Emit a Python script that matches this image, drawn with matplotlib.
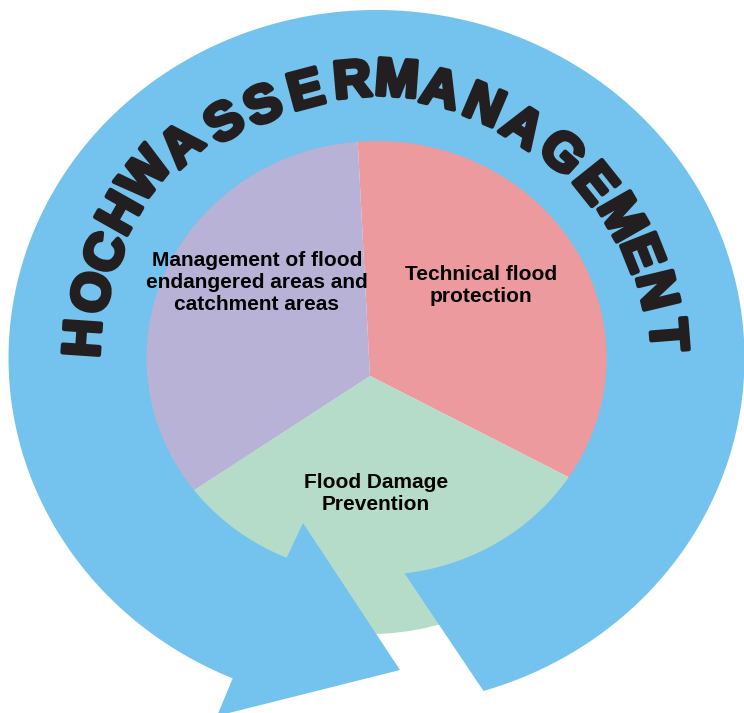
import numpy as np
import matplotlib
matplotlib.use("Agg")
import matplotlib.pyplot as plt
import matplotlib.patheffects as pe

W, H = 744, 713

# ---- data ----
categories = ["Technical flood\nprotection",
              "Flood Damage\nPrevention",
              "Management of flood\nendangered areas and\ncatchment areas"]
values = [1, 1, 1]
slice_colors = ["#EC9A9D", "#B5DCC8", "#B8B2D6"]
ring_title = "HOCHWASSERMANAGEMENT"
ring_color = "#73C3EE"
text_color = "#231F20"

# ---- layout (pixel coordinates, y downward) ----
label_pos = [(481, 285), (376, 494), (257, 282)]
letter_pos = [(81, 338), (90, 292), (103, 252), (118, 212), (143, 173),
              (180, 143), (223, 120), (262, 103), (305, 88), (352, 78),
              (397, 77), (441, 87), (485, 103), (524, 125), (564, 151),
              (597, 182), (624, 216), (644, 252), (659, 290), (670, 335)]
pie_center_px = (370, 376)
pie_radius = 258
ring_center_px = (376.5, 358)
outer_ab = (368, 348)
inner_ab = (230, 217)

fig = plt.figure(figsize=(W / 100, H / 100), dpi=100)
ax = fig.add_axes([0, 0, 1, 1])


def P(x, y):
    return x, H - y


# pie (drawn underneath the ring)
ax.pie(values, colors=slice_colors, startangle=93, counterclock=False,
       center=P(*pie_center_px), radius=pie_radius,
       wedgeprops=dict(linewidth=0), frame=False)

# circular arrow ring
rcx, rcy = ring_center_px
t_out = np.radians(np.linspace(-73.1, 247, 500))
t_in = np.radians(np.linspace(247, -83.0, 500))
xo = rcx + outer_ab[0] * np.cos(t_out)
yo = rcy - outer_ab[1] * np.sin(t_out)
xi = rcx + inner_ab[0] * np.cos(t_in)
yi = rcy - inner_ab[1] * np.sin(t_in)
head_x = [217, 400, 303]
head_y = [716, 670, 523]
xs = np.concatenate([xo, head_x, xi])
ys = np.concatenate([yo, head_y, yi])
ax.fill(xs, H - ys, color=ring_color, lw=0, zorder=3)

# slice labels
for txt, (x, y) in zip(categories, label_pos):
    ax.text(*P(x, y), txt, ha="center", va="center", multialignment="center",
            fontsize=15, fontweight="bold", family="Liberation Sans",
            color="black", linespacing=1.2, zorder=5)

# curved title
fs = 38
cap = 0.716 * fs * 100 / 72
for ch, (x, y) in zip(ring_title, letter_pos):
    phi = np.arctan2(rcy - y, x - rcx)
    bx, by = P(x, y)
    bx -= cap / 2 * np.cos(phi)
    by -= cap / 2 * np.sin(phi)
    ax.text(bx, by, ch, rotation=np.degrees(phi) - 90, rotation_mode="anchor",
            ha="center", va="baseline", fontsize=fs, fontweight="bold",
            family="Liberation Sans", color=text_color, zorder=6,
            path_effects=[pe.withStroke(linewidth=3.2, foreground=text_color)])

ax.set_xlim(0, W)
ax.set_ylim(0, H)
ax.set_aspect("equal")
ax.axis("off")
fig.savefig("out.png", dpi=100)
